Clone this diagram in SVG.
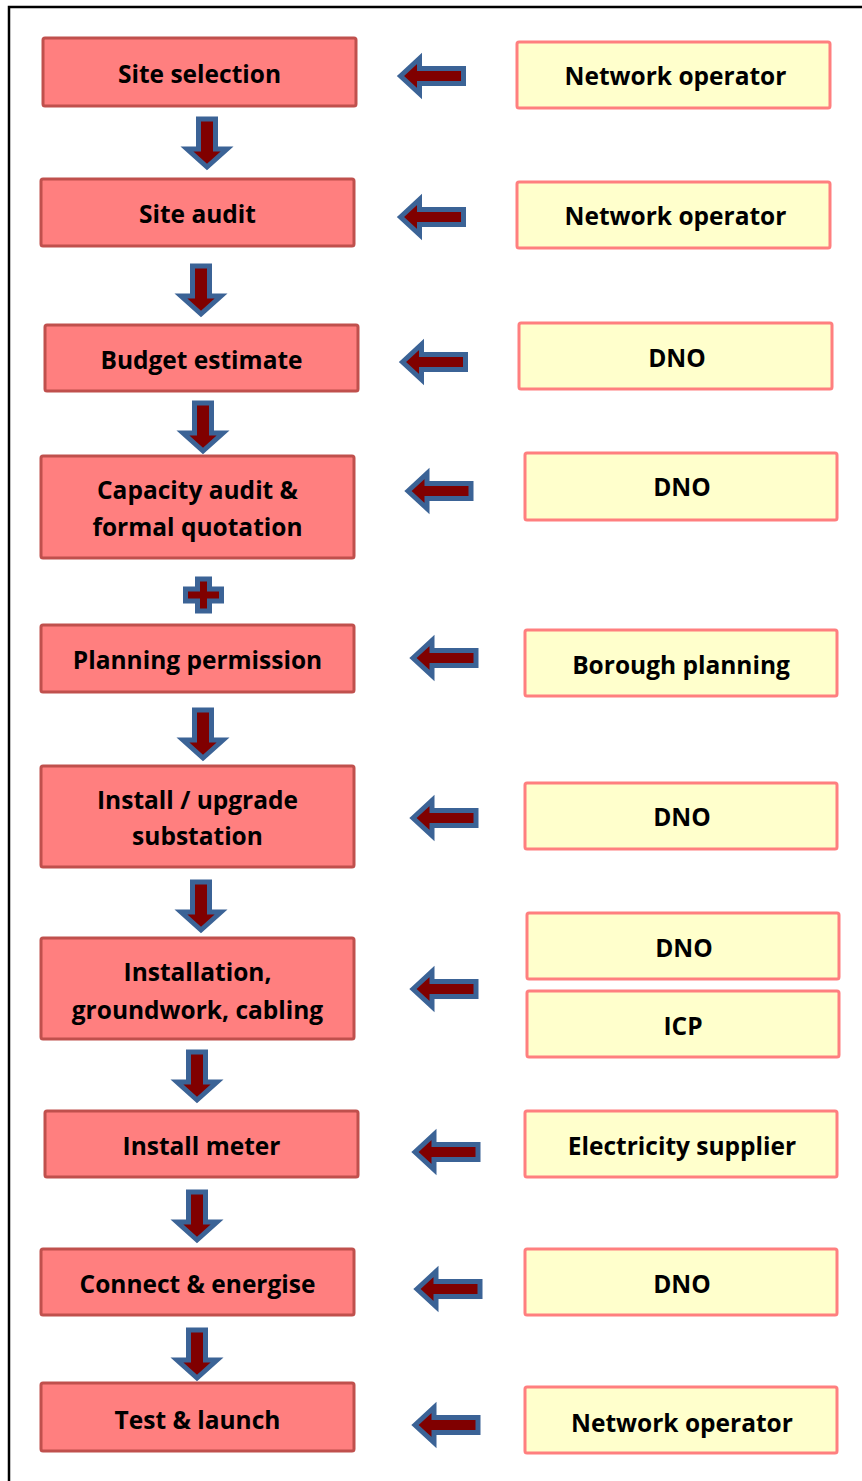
<svg xmlns="http://www.w3.org/2000/svg" width="862" height="1481" viewBox="0 0 862 1481">
<defs>
<style>
.step rect{fill:#FF7F7F;stroke:#C0504D;stroke-width:3}
.actor rect{fill:#FFFFCC;stroke:#FF7F7F;stroke-width:3}
text{font-family:"Open Sans","Liberation Sans",sans-serif;font-weight:bold;font-size:24.5px;fill:#000;text-anchor:middle;dominant-baseline:central}
.arr{fill:#800000;stroke:#3B6396;stroke-width:5;stroke-linejoin:miter;stroke-miterlimit:10}
</style>
<path id="la" d="M0,0 L19,-17.5 L19,-7.5 L63,-7.5 L63,7.5 L19,7.5 L19,17.5 Z"/>
<path id="da" d="M-8.5,0 L8.5,0 L8.5,30 L20,30 L0,48 L-20,30 L-8.5,30 Z"/>
</defs>
<rect x="0" y="0" width="862" height="1481" fill="#fff"/>
<path d="M9,1481 L9,7 L862,7" fill="none" stroke="#000" stroke-width="2.5"/>

<g id="s1" class="step"><rect x="43" y="38" width="313" height="68" rx="2"/><text x="199.5" y="73">Site selection</text></g>
<g id="s2" class="step"><rect x="41" y="179" width="313" height="67" rx="2"/><text x="197.5" y="213">Site audit</text></g>
<g id="s3" class="step"><rect x="45" y="325" width="313" height="66" rx="2"/><text x="201.5" y="359">Budget estimate</text></g>
<g id="s4" class="step"><rect x="41" y="456" width="313" height="102" rx="2"/><text x="197.5" y="489">Capacity audit &amp;</text><text x="197.5" y="526">formal quotation</text></g>
<g id="s5" class="step"><rect x="41" y="625" width="313" height="67" rx="2"/><text x="197.5" y="659">Planning permission</text></g>
<g id="s6" class="step"><rect x="41" y="766" width="313" height="101" rx="2"/><text x="197.5" y="799">Install / upgrade</text><text x="197.5" y="835">substation</text></g>
<g id="s7" class="step"><rect x="41" y="938" width="313" height="101" rx="2"/><text x="197.5" y="971">Installation,</text><text x="197.5" y="1009">groundwork, cabling</text></g>
<g id="s8" class="step"><rect x="45" y="1111" width="313" height="66" rx="2"/><text x="201.5" y="1145">Install meter</text></g>
<g id="s9" class="step"><rect x="41" y="1249" width="313" height="66" rx="2"/><text x="197.5" y="1283">Connect &amp; energise</text></g>
<g id="s10" class="step"><rect x="41" y="1383" width="313" height="68" rx="2"/><text x="197.5" y="1419">Test &amp; launch</text></g>

<g id="a1" class="actor"><rect x="517" y="42" width="313" height="66" rx="2"/><text x="675.5" y="75">Network operator</text></g>
<g id="a2" class="actor"><rect x="517" y="182" width="313" height="66" rx="2"/><text x="675.5" y="215">Network operator</text></g>
<g id="a3" class="actor"><rect x="519" y="323" width="313" height="66" rx="2"/><text x="677" y="357">DNO</text></g>
<g id="a4" class="actor"><rect x="525" y="453" width="312" height="67" rx="2"/><text x="682" y="486">DNO</text></g>
<g id="a5" class="actor"><rect x="525" y="630" width="312" height="66" rx="2"/><text x="681" y="664">Borough planning</text></g>
<g id="a6" class="actor"><rect x="525" y="783" width="312" height="66" rx="2"/><text x="682" y="816">DNO</text></g>
<g id="a7" class="actor"><rect x="527" y="913" width="312" height="66" rx="2"/><text x="684" y="947">DNO</text></g>
<g id="a8" class="actor"><rect x="527" y="991" width="312" height="66" rx="2"/><text x="683" y="1025">ICP</text></g>
<g id="a9" class="actor"><rect x="525" y="1111" width="312" height="66" rx="2"/><text x="682" y="1145">Electricity supplier</text></g>
<g id="a10" class="actor"><rect x="525" y="1249" width="312" height="66" rx="2"/><text x="682" y="1283">DNO</text></g>
<g id="a11" class="actor"><rect x="525" y="1387" width="312" height="66" rx="2"/><text x="682" y="1422">Network operator</text></g>

<g id="connectors">
<use href="#la" class="arr" x="400.5" y="76"/>
<use href="#la" class="arr" x="400.5" y="217"/>
<use href="#la" class="arr" x="402.5" y="362"/>
<use href="#la" class="arr" x="408" y="491"/>
<use href="#la" class="arr" x="413" y="658"/>
<use href="#la" class="arr" x="413" y="818"/>
<use href="#la" class="arr" x="413" y="989"/>
<use href="#la" class="arr" x="415" y="1152"/>
<use href="#la" class="arr" x="417" y="1289"/>
<use href="#la" class="arr" x="415" y="1425"/>
<use href="#da" class="arr" x="207" y="119"/>
<use href="#da" class="arr" x="201" y="266"/>
<use href="#da" class="arr" x="203" y="403"/>
<use href="#da" class="arr" x="203" y="710"/>
<use href="#da" class="arr" x="201" y="882"/>
<use href="#da" class="arr" x="197" y="1052"/>
<use href="#da" class="arr" x="197" y="1192"/>
<use href="#da" class="arr" x="197" y="1330"/>
<path class="arr" d="M197.5,579 L209.5,579 L209.5,589 L221.5,589 L221.5,601 L209.5,601 L209.5,611 L197.5,611 L197.5,601 L185.5,601 L185.5,589 L197.5,589 Z"/>
</g>
</svg>
